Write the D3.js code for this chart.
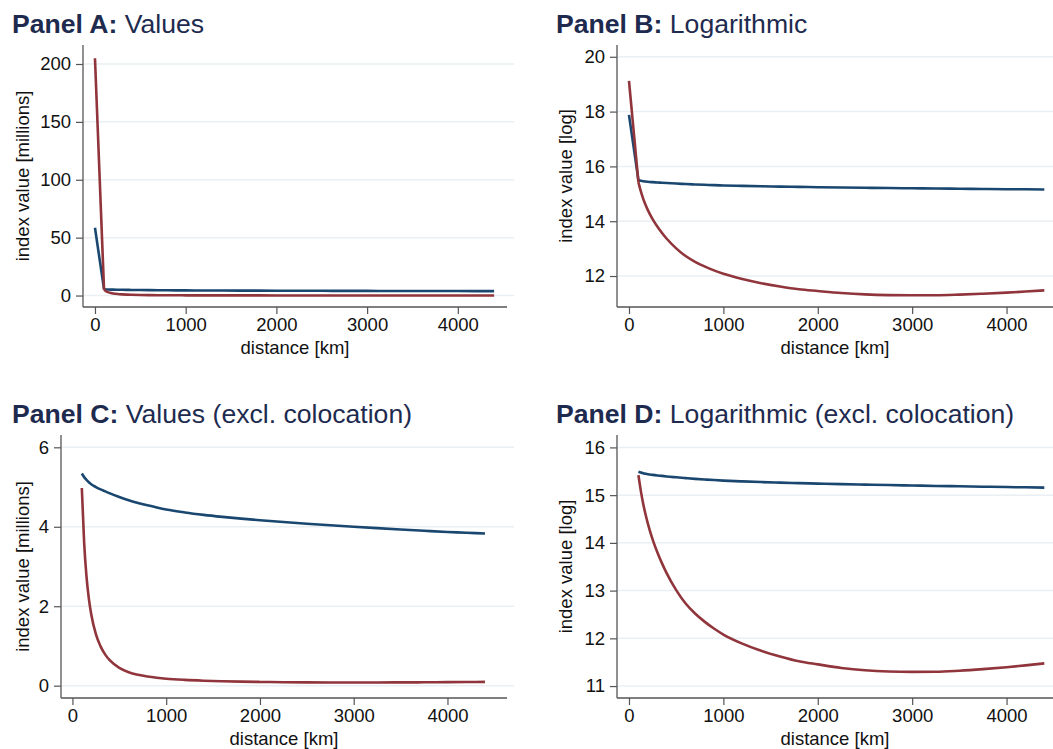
<!DOCTYPE html>
<html>
<head>
<meta charset="utf-8">
<script src="https://cdn.jsdelivr.net/npm/d3@7"></script>
<style>
  html, body { margin: 0; padding: 0; background: #ffffff; }
  svg { display: block; font-family: "Liberation Sans", Arial, sans-serif; }
</style>
</head>
<body>
<svg id="chart" width="1053" height="749"></svg>
<script>
// ---------- data ----------
const distance = [0, 100, 125, 150, 175, 200, 250, 300, 350, 400, 500, 600, 700, 800, 900, 1000,
                  1200, 1400, 1600, 1800, 2000, 2250, 2500, 2750, 3000, 3250, 3500, 3750, 4000, 4200, 4400];

// index value in millions
const blueValues = [58.5, 5.34, 5.25, 5.18, 5.12, 5.07, 5.00, 4.94, 4.89, 4.84, 4.75, 4.67, 4.60, 4.54, 4.485, 4.435,
                    4.36, 4.30, 4.25, 4.205, 4.165, 4.12, 4.078, 4.038, 4.00, 3.965, 3.932, 3.90, 3.87, 3.85, 3.83];
const redValues  = [205, 4.975, 3.595, 2.744, 2.191, 1.803, 1.296, 0.990, 0.782, 0.634, 0.447, 0.338, 0.274, 0.231, 0.200, 0.176,
                    0.146, 0.126, 0.111, 0.101, 0.0944, 0.0876, 0.0833, 0.0812, 0.0807, 0.0809, 0.0826, 0.0854, 0.0889, 0.0924, 0.0963];

// index value, log
const blueLog = [17.88, 15.49, 15.474, 15.460, 15.449, 15.439, 15.425, 15.413, 15.403, 15.392, 15.374, 15.357, 15.341, 15.328, 15.316, 15.305,
                 15.288, 15.274, 15.262, 15.252, 15.242, 15.231, 15.221, 15.211, 15.202, 15.193, 15.185, 15.177, 15.169, 15.164, 15.158];
const redLog  = [19.12, 15.42, 15.095, 14.825, 14.60, 14.405, 14.075, 13.805, 13.57, 13.36, 13.01, 12.73, 12.52, 12.35, 12.205, 12.08,
                 11.89, 11.74, 11.62, 11.52, 11.455, 11.38, 11.33, 11.305, 11.298, 11.30, 11.322, 11.355, 11.395, 11.433, 11.475];

const xTicks = [0, 1000, 2000, 3000, 4000];
const yTicksA = [0, 50, 100, 150, 200];
const yTicksB = [12, 14, 16, 18, 20];
const yTicksC = [0, 2, 4, 6];
const yTicksD = [11, 12, 13, 14, 15, 16];

const panelTitlesBold = ["Panel A:", "Panel B:", "Panel C:", "Panel D:"];
const panelTitlesRest = ["Values", "Logarithmic", "Values (excl. colocation)", "Logarithmic (excl. colocation)"];
const yTitles = ["index value [millions]", "index value [log]", "index value [millions]", "index value [log]"];
const xTitle = "distance [km]";

// ---------- styling ----------
const BLUE = "#1a476f";
const RED = "#90353b";
const TITLE_COLOR = "#1e2b4f";
const GRID = "#e9eff2";
const AXIS = "#555555";

const svg = d3.select("#chart");

function drawPanel(p) {
  const g = svg.append("g");
  const x = d3.scaleLinear().domain(p.xDomain).range([p.left, p.right]);
  const y = d3.scaleLinear().domain(p.yDomain).range([p.bottom, p.top]);

  // title
  const t = g.append("text")
    .attr("x", p.titleX).attr("y", p.titleY)
    .attr("fill", TITLE_COLOR)
    .style("font-size", "26.6px");
  t.append("tspan").attr("font-weight", "bold").text(p.titleBold);
  t.append("tspan").text(" " + p.titleRest);

  // grid lines
  g.selectAll(".grid").data(p.yTicks).enter().append("line")
    .attr("x1", p.left + 1).attr("x2", p.gridRight)
    .attr("y1", d => y(d)).attr("y2", d => y(d))
    .attr("stroke", GRID).attr("stroke-width", 1.5);

  // y axis
  const yAxis = d3.axisLeft(y).tickValues(p.yTicks).tickSize(7).tickPadding(5).tickFormat(d3.format("d"));
  const ya = g.append("g").attr("transform", `translate(${p.left},0)`).call(yAxis);
  ya.select(".domain").attr("d", `M0,${p.top}V${p.bottom}`);

  // x axis
  const xAxis = d3.axisBottom(x).tickValues(xTicks).tickSize(7).tickPadding(4).tickFormat(d3.format("d"));
  const xa = g.append("g").attr("transform", `translate(0,${p.bottom})`).call(xAxis);
  xa.select(".domain").attr("d", `M${p.left},0H${p.right}`);

  [ya, xa].forEach(a => {
    a.select(".domain").attr("stroke", AXIS).attr("stroke-width", 1.3);
    a.selectAll(".tick line").attr("stroke", AXIS).attr("stroke-width", 1.2);
    a.selectAll(".tick text").attr("fill", "#111").style("font-size", "18.5px")
      .style("font-family", "'Liberation Sans', Arial, sans-serif");
  });

  // axis titles
  g.append("text")
    .attr("x", (p.left + p.right) / 2).attr("y", p.bottom + 47)
    .attr("text-anchor", "middle").attr("fill", "#111")
    .style("font-size", "18.5px").text(xTitle);
  g.append("text")
    .attr("transform", `translate(${p.yTitleX},${(p.top + p.bottom) / 2}) rotate(-90)`)
    .attr("text-anchor", "middle").attr("fill", "#111")
    .style("font-size", "18.5px").text(p.yTitle);

  // series: straight segment from colocation (0 km) to 100 km, smooth beyond
  const lineStraight = d3.line().x(d => x(d[0])).y(d => y(d[1]));
  const lineSmooth = d3.line().curve(d3.curveMonotoneX).x(d => x(d[0])).y(d => y(d[1]));
  const series = [
    { vals: p.blue, color: BLUE },
    { vals: p.red, color: RED }
  ];
  series.forEach(s => {
    const pts = p.dist.map((d, i) => [d, s.vals[i]]);
    const k = pts.findIndex(q => q[0] >= 100);
    const parts = [];
    if (k > 0) parts.push({ data: pts.slice(0, k + 1), gen: lineStraight });
    parts.push({ data: pts.slice(Math.max(k, 0)), gen: lineSmooth });
    parts.forEach(part => {
      g.append("path").datum(part.data)
        .attr("d", part.gen)
        .attr("fill", "none")
        .attr("stroke", s.color)
        .attr("stroke-width", 2.6)
        .attr("stroke-linejoin", "round");
    });
  });
}

// Panel A
drawPanel({
  titleBold: panelTitlesBold[0], titleRest: panelTitlesRest[0], titleX: 12, titleY: 33,
  left: 83, right: 507, top: 45, bottom: 307, gridRight: 514,
  xDomain: [-132, 4542], yDomain: [-9.9, 216.4], yTicks: yTicksA,
  yTitle: yTitles[0], yTitleX: 28.5,
  dist: distance, blue: blueValues, red: redValues
});

// Panel B
drawPanel({
  titleBold: panelTitlesBold[1], titleRest: panelTitlesRest[1], titleX: 556, titleY: 33,
  left: 617, right: 1053, top: 45, bottom: 307, gridRight: 1053,
  xDomain: [-127, 4492], yDomain: [10.87, 20.43], yTicks: yTicksB,
  yTitle: yTitles[1], yTitleX: 572,
  dist: distance, blue: blueLog, red: redLog
});

// Panel C
drawPanel({
  titleBold: panelTitlesBold[2], titleRest: panelTitlesRest[2], titleX: 12, titleY: 423,
  left: 61, right: 507, top: 435, bottom: 698, gridRight: 514,
  xDomain: [-122, 4635], yDomain: [-0.31, 6.31], yTicks: yTicksC,
  yTitle: yTitles[2], yTitleX: 28.5,
  dist: distance.slice(1), blue: blueValues.slice(1), red: redValues.slice(1)
});

// Panel D
drawPanel({
  titleBold: panelTitlesBold[3], titleRest: panelTitlesRest[3], titleX: 556, titleY: 423,
  left: 617, right: 1053, top: 435, bottom: 698, gridRight: 1053,
  xDomain: [-127, 4492], yDomain: [10.75, 16.26], yTicks: yTicksD,
  yTitle: yTitles[3], yTitleX: 572,
  dist: distance.slice(1), blue: blueLog.slice(1), red: redLog.slice(1)
});
</script>
</body>
</html>
